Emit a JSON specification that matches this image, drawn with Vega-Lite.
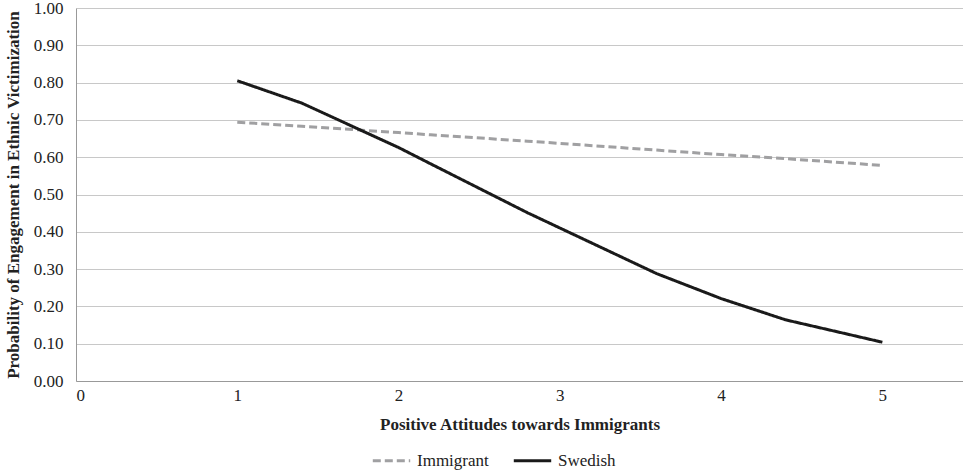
{
  "$schema": "https://vega.github.io/schema/vega-lite/v6.json",
  "autosize": "none",
  "width": 887,
  "height": 373,
  "padding": {"left": 76, "top": 8, "right": 0, "bottom": 93},
  "background": "white",
  "data": {
    "values": [
      {"x": 1.0, "group": "Immigrant", "p": 0.694},
      {"x": 1.4, "group": "Immigrant", "p": 0.683},
      {"x": 2.0, "group": "Immigrant", "p": 0.666},
      {"x": 2.2, "group": "Immigrant", "p": 0.660},
      {"x": 2.8, "group": "Immigrant", "p": 0.643},
      {"x": 3.6, "group": "Immigrant", "p": 0.619},
      {"x": 4.0, "group": "Immigrant", "p": 0.607},
      {"x": 4.4, "group": "Immigrant", "p": 0.596},
      {"x": 5.0, "group": "Immigrant", "p": 0.578},
      {"x": 1.0, "group": "Swedish", "p": 0.805},
      {"x": 1.4, "group": "Swedish", "p": 0.745},
      {"x": 2.0, "group": "Swedish", "p": 0.626},
      {"x": 2.2, "group": "Swedish", "p": 0.582},
      {"x": 2.8, "group": "Swedish", "p": 0.451},
      {"x": 3.6, "group": "Swedish", "p": 0.288},
      {"x": 4.0, "group": "Swedish", "p": 0.221},
      {"x": 4.4, "group": "Swedish", "p": 0.164},
      {"x": 5.0, "group": "Swedish", "p": 0.104}
    ]
  },
  "mark": {"type": "line", "strokeWidth": 3},
  "encoding": {
    "x": {
      "field": "x", "type": "quantitative",
      "scale": {"domain": [0, 5.5], "nice": false, "zero": false},
      "axis": {
        "values": [0, 1, 2, 3, 4, 5], "format": "d", "grid": false, "ticks": false,
        "domainColor": "#999999", "labelPadding": 6,
        "title": "Positive Attitudes towards Immigrants", "titlePadding": 13
      }
    },
    "y": {
      "field": "p", "type": "quantitative",
      "scale": {"domain": [0, 1], "nice": false},
      "axis": {
        "values": [0, 0.1, 0.2, 0.3, 0.4, 0.5, 0.6, 0.7, 0.8, 0.9, 1.0], "format": ".2f",
        "ticks": false, "gridColor": "#c8c8c8", "domainColor": "#999999", "labelPadding": 13,
        "title": "Probability of Engagement in Ethnic Victimization", "titlePadding": 11
      }
    },
    "color": {
      "field": "group", "type": "nominal",
      "scale": {"domain": ["Immigrant", "Swedish"], "range": ["#a0a0a2", "#1a1a1a"]},
      "legend": {
        "orient": "none", "legendX": 295, "legendY": 432, "direction": "horizontal",
        "title": null, "symbolType": "stroke", "symbolSize": 1400, "symbolStrokeWidth": 3,
        "labelFontSize": 17, "labelFont": "Liberation Serif", "labelColor": "#222222",
        "columnPadding": 18, "labelOffset": 5
      }
    },
    "strokeDash": {
      "field": "group", "type": "nominal",
      "scale": {"domain": ["Immigrant", "Swedish"], "range": [[8, 4], [1, 0]]},
      "legend": null
    }
  },
  "config": {
    "view": {"stroke": null},
    "axis": {
      "labelFont": "Liberation Serif", "labelFontSize": 17, "labelColor": "#222222",
      "titleFont": "Liberation Serif", "titleFontSize": 17, "titleFontWeight": "bold", "titleColor": "#222222"
    }
  }
}
